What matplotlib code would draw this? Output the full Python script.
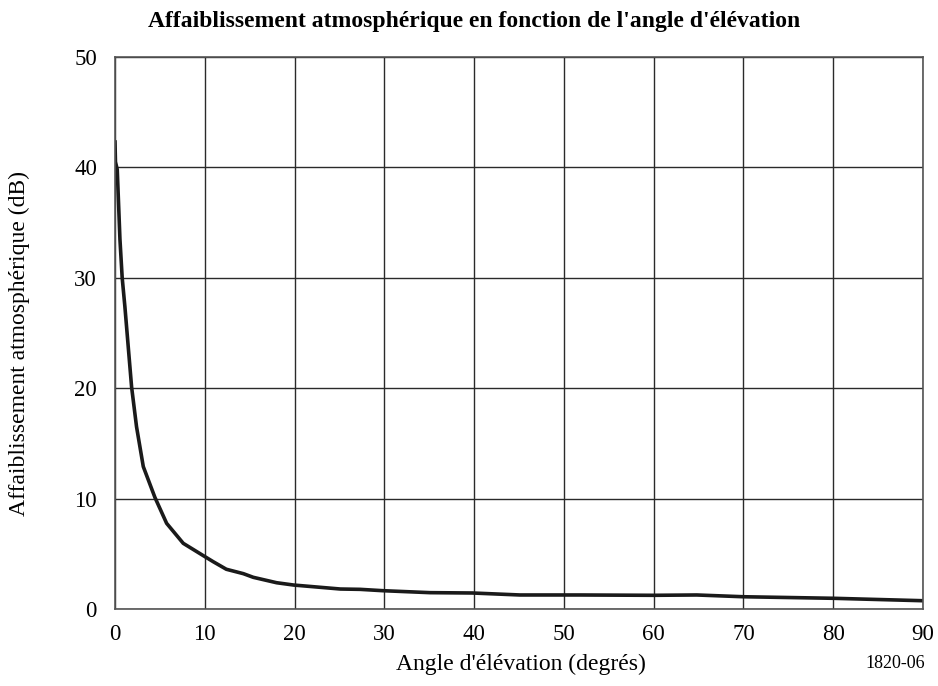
import matplotlib
matplotlib.use("Agg")
import matplotlib.pyplot as plt

angle = [0.0, 0.05, 0.25, 0.55, 0.8, 1.1, 1.5, 1.85, 2.4, 3.15, 4.45, 5.75, 7.6, 9.9,
         10.95, 12.4, 14.3, 15.4, 18.0, 19.9, 25.1, 27.3, 29.8, 35.1, 39.8, 45.1,
         51.8, 60.0, 64.8, 70.0, 80.0, 90.0]
atten = [42.3, 40.5, 39.8, 33.5, 30.0, 27.4, 23.5, 20.1, 16.5, 12.9, 10.1, 7.76, 5.95, 4.8,
         4.28, 3.6, 3.2, 2.87, 2.38, 2.17, 1.81, 1.78, 1.66, 1.48, 1.45, 1.27,
         1.27, 1.24, 1.27, 1.11, 0.97, 0.75]
xticks = [0, 10, 20, 30, 40, 50, 60, 70, 80, 90]
yticks = [0, 10, 20, 30, 40, 50]

plt.rcParams['font.family'] = ['Liberation Serif', 'DejaVu Serif']

W, H = 938, 686
fig = plt.figure(figsize=(W / 100, H / 100), dpi=100)
ax = fig.add_axes([115 / W, 1 - 609 / H, 808 / W, 552 / H])
ax.plot(angle, atten, color='#1a1a1a', lw=2.6, solid_joinstyle='round')
ax.set_xlim(0, 90)
ax.set_ylim(0, 50)
ax.set_xticks(xticks)
ax.set_yticks(yticks)
ax.grid(True, color='#2a2a2a', lw=1.0)
ax.set_axisbelow(True)
ax.tick_params(axis='x', length=0, labelsize=16.5, pad=11)
ax.tick_params(axis='y', length=0, labelsize=16.5, pad=13)
for s in ax.spines.values():
    s.set_color('#555555')
    s.set_linewidth(1.2)
fig.text(521 / W, 1 - 664 / H, "Angle d'élévation (degrés)", ha='center', va='center',
         fontsize=17)
fig.text(19 / W, 1 - 343 / H, "Affaiblissement atmosphérique (dB)", ha='center',
         va='center', rotation=90, fontsize=17)
fig.text(474 / W, 1 - 21 / H,
         "Affaiblissement atmosphérique en fonction de l'angle d'élévation",
         ha='center', va='center', fontsize=17, fontweight='bold')
fig.text(895 / W, 1 - 664 / H, "1820-06", ha='center', va='center', fontsize=13)
fig.savefig("out.png", dpi=100)
